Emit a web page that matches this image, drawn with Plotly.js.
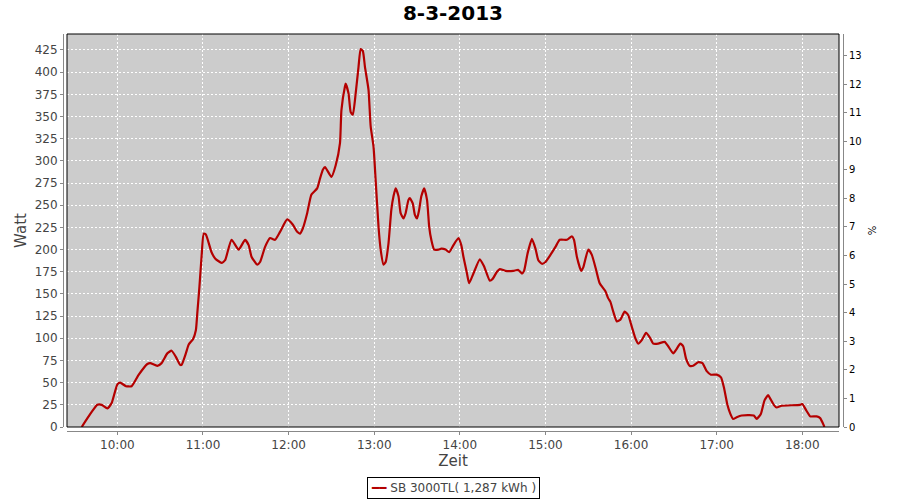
<!DOCTYPE html>
<html>
<head>
<meta charset="utf-8">
<script src="https://cdn.plot.ly/plotly-3.0.1.min.js"></script>
<style>html,body{margin:0;padding:0;background:#fff;}#chart{width:900px;height:500px;}</style>
</head>
<body>
<div id="chart"></div>
<script>
const chartTitle = "8-3-2013";
const seriesName = "SB 3000TL( 1,287 kWh )";
const day = "2013-03-08";
const times = [
"09:35","09:46","09:49","09:53","09:56","10:00","10:02","10:06","10:10","10:15",
"10:21","10:23","10:28","10:31","10:35","10:38","10:41","10:44","10:45","10:48",
"10:50","10:53","10:55","10:56","10:57:30","10:59","11:00:30","11:02","11:06","11:08:30",
"11:13","11:15:30","11:20","11:25","11:29:30","11:32","11:34","11:38","11:40","11:43:30",
"11:47","11:50:30","11:54","11:59","12:03","12:06","12:08","12:10","12:13","12:16",
"12:20","12:22","12:24","12:25:30","12:30","12:33","12:36","12:37","12:39:30","12:40",
"12:42","12:43:30","12:45","12:47","12:49","12:50:30","12:52","12:53:30","12:56","12:57:30",
"12:59:30","13:01","13:03","13:04:30","13:06:30","13:08","13:10","13:12","13:13:30","13:15",
"13:17","13:18:30","13:20:30","13:22","13:24","13:25","13:27","13:28:30","13:30","13:31:30",
"13:33","13:35","13:37","13:38:30","13:40","13:42","13:45","13:47","13:50","13:52:30",
"13:55:30","13:59","14:01","14:02:30","14:05","14:06:30","14:09:30","14:14","14:17","14:21",
"14:23","14:26","14:28","14:32","14:37:30","14:41","14:43:30","14:45","14:47:30","14:50:30",
"14:53","14:55","14:57:30","15:00","15:03:30","15:07","15:10","15:15","15:18:30","15:20",
"15:22","15:25","15:26:30","15:30","15:32:30","15:35:30","15:38","15:42","15:44","15:45:30",
"15:47:30","15:50","15:52:30","15:55:30","15:58","16:00:30","16:03","16:05","16:07:30","16:10:30",
"16:13:30","16:15:30","16:19","16:23:30","16:26","16:29:30","16:31:30","16:34:30","16:36:30","16:38:30",
"16:41","16:43:30","16:47","16:50","16:53","16:56","17:00","17:03","17:05","17:07:30",
"17:09:30","17:11:30","17:14","17:17:30","17:26","17:28","17:31","17:33:30","17:36","17:37:30",
"17:40","17:42","17:45:30","17:58:30","18:00","18:03","18:05:30","18:10","18:12:30","18:15",
"18:15:30"
];
const watt = [
0,25,25,21,27,48,50,46,46,59,
71,72,69,72,83,86,79,70,70,83,
93,99,109,128,158,192,218,217,197,190,
185,188,211,200,211,205,192,183,186,203,
213,211,220,234,228,220,218,224,241,262,
269,280,290,293,282,295,320,357,384,387,
376,355,352,376,406,426,424,406,380,339,
316,278,226,200,183,186,207,245,260,269,
260,241,235,241,256,258,252,239,235,245,
260,269,256,226,211,200,200,201,200,197,
205,213,205,192,173,162,173,189,181,165,
167,175,178,176,176,177,173,176,196,212,
201,188,184,186,194,203,211,211,215,211,
192,176,180,200,194,177,162,153,145,141,
130,119,121,130,126,113,100,94,98,106,
100,94,94,96,91,83,87,94,91,77,
69,69,73,72,63,59,59,56,45,25,
15,9,11,13,13,9,15,30,36,32,
25,22,24,25,26,18,12,12,10,2,
0
];
const wattTicks = [0,25,50,75,100,125,150,175,200,225,250,275,300,325,350,375,400,425];
const pctTicks = [0,1,2,3,4,5,6,7,8,9,10,11,12,13];

const toTs = t => day + " " + (t.length === 5 ? t + ":00" : t);
const xs = times.map(toTs);

const lineColor = "#b40000";
const grey = "#444444";
const axisGrey = "#888888";
const font = "DejaVu Sans, Arial, sans-serif";

const traces = [
  {
    x: xs, y: watt, type: "scatter", mode: "lines", name: seriesName, showlegend: false,
    line: {color: lineColor, width: 2.2, shape: "spline", smoothing: 0.5},
    xaxis: "x", yaxis: "y"
  },
  {
    x: [xs[0]], y: [null], type: "scatter", mode: "lines", showlegend: false,
    hoverinfo: "skip", xaxis: "x", yaxis: "y2"
  }
];

const layout = {
  width: 900, height: 500,
  margin: {l: 63, r: 57, t: 34, b: 69, autoexpand: false},
  paper_bgcolor: "#ffffff",
  plot_bgcolor: "#cccccc",
  font: {family: font, size: 12, color: grey},
  title: {text: "<b>" + chartTitle + "</b>", font: {family: font, size: 20, color: "#000"},
          x: 0.5, xanchor: "center", y: 0.975, yanchor: "middle", xref: "paper"},
  showlegend: false,
  annotations: [
    {
      xref: "paper", yref: "paper", x: 0.5, y: -0.1436, xanchor: "center", yanchor: "middle",
      showarrow: false,
      text: '<span style="color:' + lineColor + '">━━</span> ' + seriesName,
      font: {family: font, size: 12, color: grey},
      bordercolor: "#000", borderwidth: 1, borderpad: 3, bgcolor: "#fff"
    }
  ],
  xaxis: {
    type: "date",
    domain: [4/780, 1 - 4/780],
    anchor: "free", position: 0,
    range: [day + " 09:24:42", day + " 18:25:42"],
    tick0: day + " 10:00:00", dtick: 3600000, tickformat: "%H:%M",
    showline: true, linecolor: axisGrey, linewidth: 1,
    ticks: "outside", ticklen: 3, tickcolor: axisGrey,
    showgrid: true, gridcolor: "#ffffff", gridwidth: 1, griddash: "2px,2px",
    zeroline: false, automargin: false,
    tickfont: {family: font, size: 12, color: grey},
    title: {text: "Zeit", font: {family: font, size: 15, color: grey}, standoff: 4}
  },
  yaxis: {
    domain: [4/397, 1],
    anchor: "free", position: 0,
    range: [0, 443],
    tickvals: wattTicks,
    showline: true, linecolor: axisGrey, linewidth: 1,
    ticks: "outside", ticklen: 3, tickcolor: axisGrey,
    showgrid: true, gridcolor: "#ffffff", gridwidth: 1, griddash: "2px,2px",
    zeroline: false, automargin: false,
    tickfont: {family: font, size: 12, color: grey},
    title: {text: "Watt", font: {family: font, size: 15, color: grey}, standoff: 3}
  },
  yaxis2: {
    overlaying: "y", side: "right",
    anchor: "free", position: 1,
    range: [0, 13.75],
    tickvals: pctTicks,
    showline: true, linecolor: axisGrey, linewidth: 1,
    ticks: "outside", ticklen: 3, tickcolor: axisGrey,
    showgrid: false, zeroline: false, automargin: false,
    tickfont: {family: font, size: 10, color: "#000"},
    title: {text: "%", font: {family: font, size: 10, color: "#000"}, standoff: 8}
  },
  shapes: [
    {type: "rect", xref: "x domain", yref: "y domain", x0: 0, x1: 1, y0: 0, y1: 1,
     line: {color: "#000", width: 1}, fillcolor: "rgba(0,0,0,0)", layer: "above"}
  ]
};

Plotly.newPlot("chart", traces, layout, {displayModeBar: false, staticPlot: true});
</script>
</body>
</html>
